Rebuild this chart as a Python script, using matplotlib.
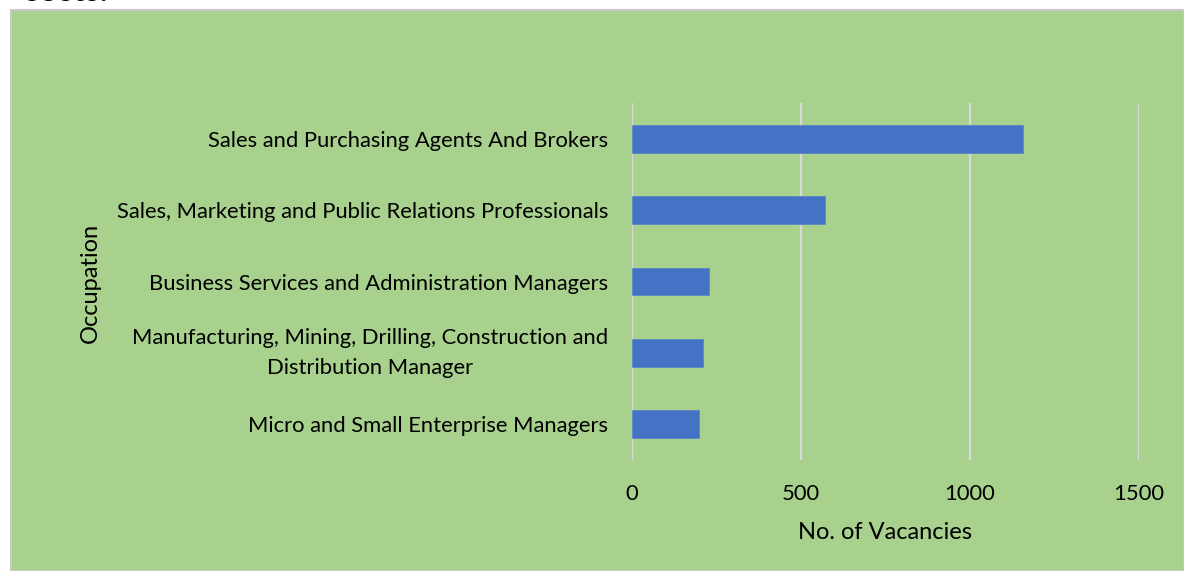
import numpy as np
import matplotlib
matplotlib.use('Agg')
import matplotlib.pyplot as plt
from matplotlib.patches import Rectangle

# data (top to bottom)
occupations = ['Sales and Purchasing Agents And Brokers',
               'Sales, Marketing and Public Relations Professionals',
               'Business Services and Administration Managers',
               'Manufacturing, Mining, Drilling, Construction and\nDistribution Manager',
               'Micro and Small Enterprise Managers']
vacancies = [1158, 571, 228, 210, 198]
x_ticks = [0, 500, 1000, 1500]

plt.rcParams['font.family'] = ['Lato', 'DejaVu Sans']

fig = plt.figure(figsize=(11.84, 5.71), dpi=100)
fig.patch.set_facecolor('white')

# green chart area with thin grey frame
bg = Rectangle((11/1184, 0), 1 - 11/1184, 1 - 10/571, transform=fig.transFigure,
               facecolor='#A9D18E', edgecolor='#C8C8C8', linewidth=1.5, zorder=-10)
fig.patches.append(bg)

# cut off text from the page above
fig.text(0.02, 1 - 1/571, 'sects.', fontsize=24, fontweight='bold', color='black',
         ha='left', va='baseline')

ax = fig.add_axes([632/1184, 1 - 460/571, (1139 - 632)/1184, (460 - 103)/571])
ax.set_facecolor('none')

y = np.arange(len(occupations))
ax.barh(y, vacancies, height=0.39, color='#4472C4', edgecolor='#5B86C9', linewidth=0.6, zorder=3)
ax.set_yticks(y)
ax.set_yticklabels(occupations, fontsize=15.8, multialignment='center', linespacing=1.6)
for lab in ax.get_yticklabels():
    if '\n' in lab.get_text():
        lab.set_va('center')
ax.set_ylim(len(occupations) - 0.5, -0.5)
ax.set_xlim(0, 1500)
ax.set_xticks(x_ticks)
ax.set_xticklabels([str(t) for t in x_ticks], fontsize=15.8)
ax.grid(axis='x', color='#D9D9D9', linewidth=1.6, zorder=1)
ax.tick_params(length=0, pad=17)
ax.tick_params(axis='x', pad=17)
for s in ax.spines.values():
    s.set_visible(False)

ax.set_xlabel('No. of Vacancies', fontsize=17, labelpad=13)
fig.text(90/1184, 1 - 283/571, 'Occupation', fontsize=17, rotation=90, ha='center', va='center')

fig.savefig('out.png', dpi=100, facecolor=fig.get_facecolor())
